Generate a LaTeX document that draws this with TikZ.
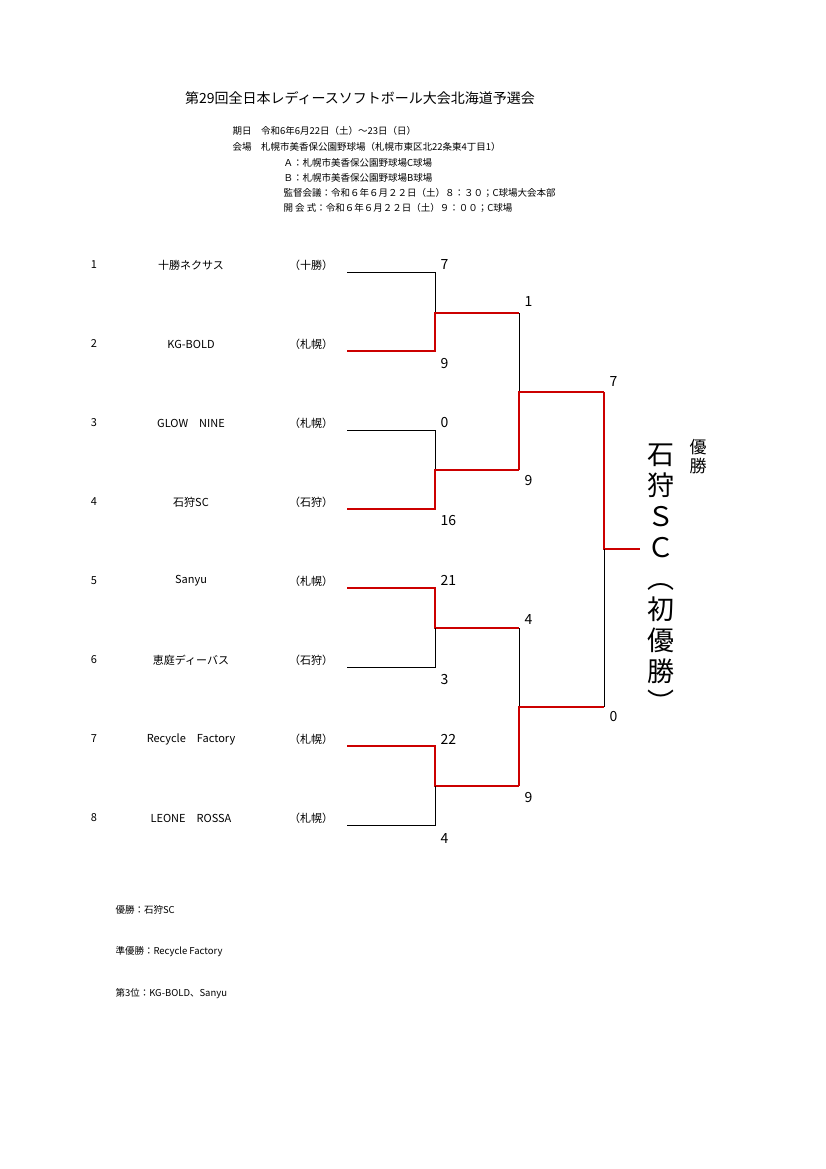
\documentclass[tikz,border=0pt]{standalone}
\usepackage{fontspec}
\setmainfont{Noto Sans CJK JP}
\usepackage{xcolor}
\definecolor{winred}{RGB}{204,0,0}
\begin{document}
\begin{tikzpicture}[x=1pt,y=-1pt]
\tikzset{
	lose/.style={draw=black,line width=0.7pt},
	win/.style={draw=winred,line width=2.6pt},
	team/.style={font=\fontsize{11}{13}\selectfont,anchor=center},
	score/.style={font=\fontsize{14}{16}\selectfont,anchor=west},
	info/.style={font=\fontsize{9.5}{11}\selectfont,anchor=west}
}
\useasboundingbox (0,0) rectangle (826,1169);

%% HEADER
\node (title) [font=\fontsize{14}{16}\selectfont] at (360,98) {第29回全日本レディースソフトボール大会北海道予選会};
\node (i1) [info] at (229,131) {期日\quad 令和6年6月22日（土）～23日（日）};
\node (i2) [info] at (229,147) {会場\quad 札幌市美香保公園野球場（札幌市東区北22条東4丁目1）};
\node (i3) [info] at (280,163) {Ａ：札幌市美香保公園野球場C球場};
\node (i4) [info] at (280,178) {Ｂ：札幌市美香保公園野球場B球場};
\node (i5) [info] at (280,193) {監督会議：令和６年６月２２日（土）８：３０；C球場大会本部};
\node (i6) [info] at (280,208) {開 会 式：令和６年６月２２日（土）９：００；C球場};

%% TEAMS
\foreach \n/\name/\home [count=\i] in {1/十勝ネクサス/十勝,2/KG-BOLD/札幌,3/GLOW\quad NINE/札幌,4/石狩SC/石狩,5/Sanyu/札幌,6/恵庭ディーバス/石狩,7/Recycle\quad Factory/札幌,8/LEONE\quad ROSSA/札幌}{
	\pgfmathsetmacro\yy{265+79*(\i-1)}
	\node (num\i) [team] at (94,\yy) {\n};
	\node (name\i) [team] at (191,\yy) {\name};
	\node (home\i) [team] at (311,\yy) {（\home）};
}

%% ROUND 1
\draw[lose] (347,272) -- (435,272) -- (435,313);
\draw[win] (347,351) -- (435,351) -- (435,313) -- (519,313);
\draw[lose] (347,430) -- (435,430) -- (435,470);
\draw[win] (347,509) -- (435,509) -- (435,470) -- (519,470);
\draw[win] (347,588) -- (435,588) -- (435,628) -- (519,628);
\draw[lose] (347,667) -- (435,667) -- (435,628);
\draw[win] (347,746) -- (435,746) -- (435,786) -- (519,786);
\draw[lose] (347,825) -- (435,825) -- (435,786);

%% ROUND 2
\draw[lose] (519,313) -- (519,392);
\draw[win] (519,470) -- (519,392) -- (604,392);
\draw[lose] (519,628) -- (519,707);
\draw[win] (519,786) -- (519,707) -- (604,707);

%% FINAL
\draw[win] (604,392) -- (604,549) -- (640,549);
\draw[lose] (604,549) -- (604,707);

%% SCORES
\foreach \s/\x/\y [count=\k] in {7/437/265,9/437/364,0/437/423,16/437/521,21/437/580,3/437/680,22/437/739,4/437/838,1/521/302,9/521/481,4/521/620,9/521/797,7/606/382,0/606/717}
	\node (sc\k) [score] at (\x,\y) {\s};

%% CHAMPION
\node (champ) [font=\fontsize{17}{19}\selectfont,align=center,anchor=north] at (698,436) {優\\勝};
\node (winner) [font=\fontsize{27}{31}\selectfont,align=center,anchor=north] at (661,440) {石\\狩\\Ｓ\\Ｃ\\︵\\初\\優\\勝\\︶};

%% RESULTS
\node (r1) [info] at (112,910) {優勝：石狩SC};
\node (r2) [info] at (112,952) {準優勝：Recycle Factory};
\node (r3) [info] at (112,994) {第3位：KG-BOLD、Sanyu};
\end{tikzpicture}
\end{document}
